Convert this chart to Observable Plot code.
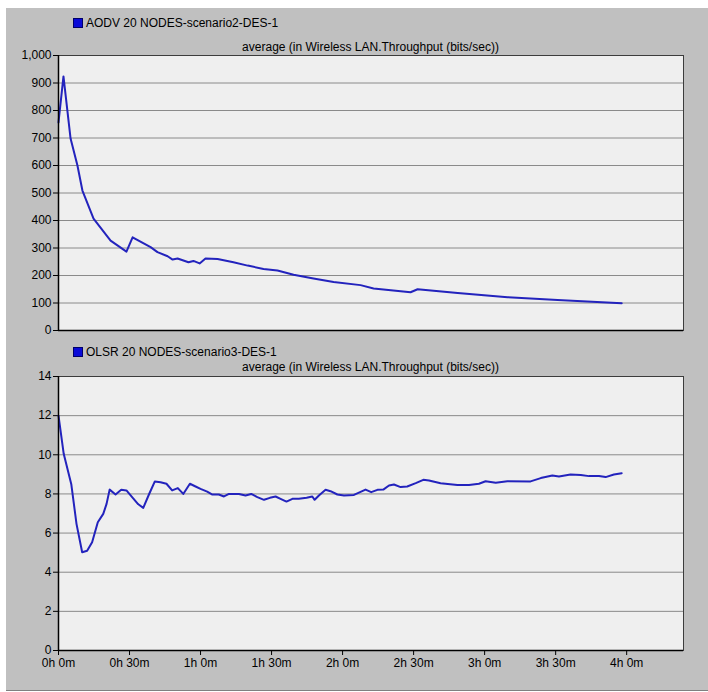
<!DOCTYPE html>
<html><head><meta charset="utf-8">
<script src="https://cdn.jsdelivr.net/npm/d3@7"></script>
<script src="https://cdn.jsdelivr.net/npm/@observablehq/plot@0.6"></script>
<style>
body{margin:0;background:#fff;font-family:"Liberation Sans",Arial,sans-serif;}
#root{position:relative;width:708px;height:692px;overflow:hidden;}
#panel{position:absolute;left:6px;top:8px;width:702px;height:682px;background:#c0c0c0;border-bottom:1px solid #808080;}
.abs{position:absolute;}
.legend{font-size:12px;line-height:14px;color:#000;white-space:nowrap;}
.sw{position:absolute;width:8px;height:8px;background:#0a0ad8;border:1px solid #00006a;}
.sub{font-size:12px;line-height:14px;color:#000;text-align:center;white-space:nowrap;}
svg{overflow:visible;}
</style>
</head><body>
<div id="root"><div id="panel"></div></div>
<script>
// ---- data (minutes, bits/sec) ----
const aodvTime  = [0, 2.1, 5.1, 8.0, 10.1, 14.8, 22.0, 28.7, 31.3, 38.9, 41.8, 46.1, 48.2, 50.3, 54.9, 57.0, 59.6, 62.1, 67.2, 73.9, 79.9, 86.6, 92.5, 99.3, 107.7, 116.2, 127.6, 133.1, 148.7, 151.7, 168.6, 189.7, 210.8, 237.9];
const aodvValue = [757, 924, 698, 600, 509, 407, 327, 287, 339, 303, 285, 270, 258, 262, 248, 253, 244, 262, 260, 248, 236, 224, 218, 203, 189, 176, 165, 153, 139, 150, 136, 121, 111, 99];

const olsrTime  = [0, 2.2, 5.4, 7.6, 10.0, 12.1, 14.2, 16.6, 18.9, 20.3, 21.6, 24.1, 26.5, 28.7, 31.1, 33.7, 35.8, 38.2, 40.7, 43.1, 45.6, 48.0, 50.4, 52.7, 55.5, 57.9, 60.0, 62.8, 65.0, 67.7, 69.9, 72.0, 76.2, 79.0, 81.4, 84.0, 86.8, 89.3, 91.7, 93.8, 96.3, 98.8, 101.5, 104.8, 107.2, 108.2, 110.0, 112.8, 114.9, 117.8, 120.6, 124.8, 129.7, 132.1, 134.7, 137.2, 139.6, 141.7, 144.5, 147.3, 150.9, 154.1, 156.5, 161.4, 168.5, 173.4, 177.6, 180.4, 184.7, 189.6, 199.4, 203.7, 208.6, 211.4, 216.3, 220.6, 224.1, 228.3, 231.1, 234.6, 237.9];
const olsrValue = [12.0, 10.05, 8.5, 6.47, 5.02, 5.1, 5.53, 6.55, 6.98, 7.49, 8.22, 7.97, 8.21, 8.18, 7.84, 7.47, 7.29, 7.97, 8.64, 8.6, 8.52, 8.18, 8.3, 8.0, 8.52, 8.38, 8.26, 8.12, 7.97, 7.97, 7.87, 8.0, 8.0, 7.92, 8.0, 7.84, 7.7, 7.8, 7.87, 7.75, 7.61, 7.75, 7.75, 7.8, 7.87, 7.7, 7.92, 8.21, 8.14, 7.97, 7.92, 7.95, 8.22, 8.09, 8.21, 8.22, 8.43, 8.48, 8.35, 8.38, 8.55, 8.72, 8.69, 8.55, 8.46, 8.46, 8.52, 8.65, 8.57, 8.65, 8.64, 8.81, 8.94, 8.89, 8.99, 8.97, 8.91, 8.92, 8.86, 8.99, 9.06];

const yTicksTop = [0, 100, 200, 300, 400, 500, 600, 700, 800, 900, 1000];
const yTicksBottom = [0, 2, 4, 6, 8, 10, 12, 14];
const xTicks = [0, 30, 60, 90, 120, 150, 180, 210, 240];
const xDomain = [0, 264];

const legendTop = "AODV 20 NODES-scenario2-DES-1";
const legendBottom = "OLSR 20 NODES-scenario3-DES-1";
const subtitle = "average (in Wireless LAN.Throughput (bits/sec))";

const aodv = aodvTime.map((t, i) => ({t, v: aodvValue[i]}));
const olsr = olsrTime.map((t, i) => ({t, v: olsrValue[i]}));
const fmtTime = d => `${Math.floor(d / 60)}h ${d % 60}m`;

const LINE = "#2323bd", GRID = "#8a8a8a", FILL = "#efefef", BORDER = "#3c3c3c";
const style = {background: "transparent", fontFamily: "'Liberation Sans', Arial, sans-serif", fontSize: "12px", color: "#000", overflow: "visible"};

function panel(data, yTicks, yDomain, showX, height, marginBottom, yFmt) {
  const marks = [
    Plot.frame({fill: FILL}),
    Plot.ruleY(yTicks, {stroke: GRID, strokeWidth: 1}),
    Plot.axisY(yTicks, {tickSize: 5, tickPadding: 2, tickFormat: yFmt, fontSize: 12, stroke: "#000", label: null}),
    Plot.line(data, {x: "t", y: "v", stroke: LINE, strokeWidth: 2}),
    Plot.frame({stroke: BORDER, strokeWidth: 1}),
    Plot.ruleX([xDomain[0]], {stroke: "#000", strokeWidth: 1.5}),
    Plot.ruleY([yDomain[0]], {stroke: "#000", strokeWidth: 1.5})
  ];
  if (showX) marks.push(Plot.axisX(xTicks, {tickSize: 5, tickPadding: 3, tickFormat: fmtTime, fontSize: 12, stroke: "#000", label: null}));
  return Plot.plot({
    width: 708, height,
    marginLeft: 58, marginRight: 25, marginTop: 10, marginBottom,
    style,
    x: {domain: xDomain, axis: null},
    y: {domain: yDomain, axis: null},
    marks
  });
}

const root = document.getElementById("root");
function place(el, left, top) { el.style.position = "absolute"; el.style.left = left + "px"; el.style.top = top + "px"; root.appendChild(el); }

place(panel(aodv, yTicksTop, [0, 1000], false, 295, 10, d3.format(",")), 0, 45);
place(panel(olsr, yTicksBottom, [0, 14], true, 314, 30, d => d), 0, 366);

function legend(text, top) {
  const sw = document.createElement("div"); sw.className = "sw"; place(sw, 73, top + 2);
  const t = document.createElement("div"); t.className = "legend"; t.textContent = text; place(t, 86, top);
}
function sub(top) {
  const d = document.createElement("div"); d.className = "sub"; d.textContent = subtitle;
  d.style.width = "625px"; place(d, 58, top);
}
legend(legendTop, 16); sub(40);
legend(legendBottom, 345); sub(360);
</script>
</body></html>
